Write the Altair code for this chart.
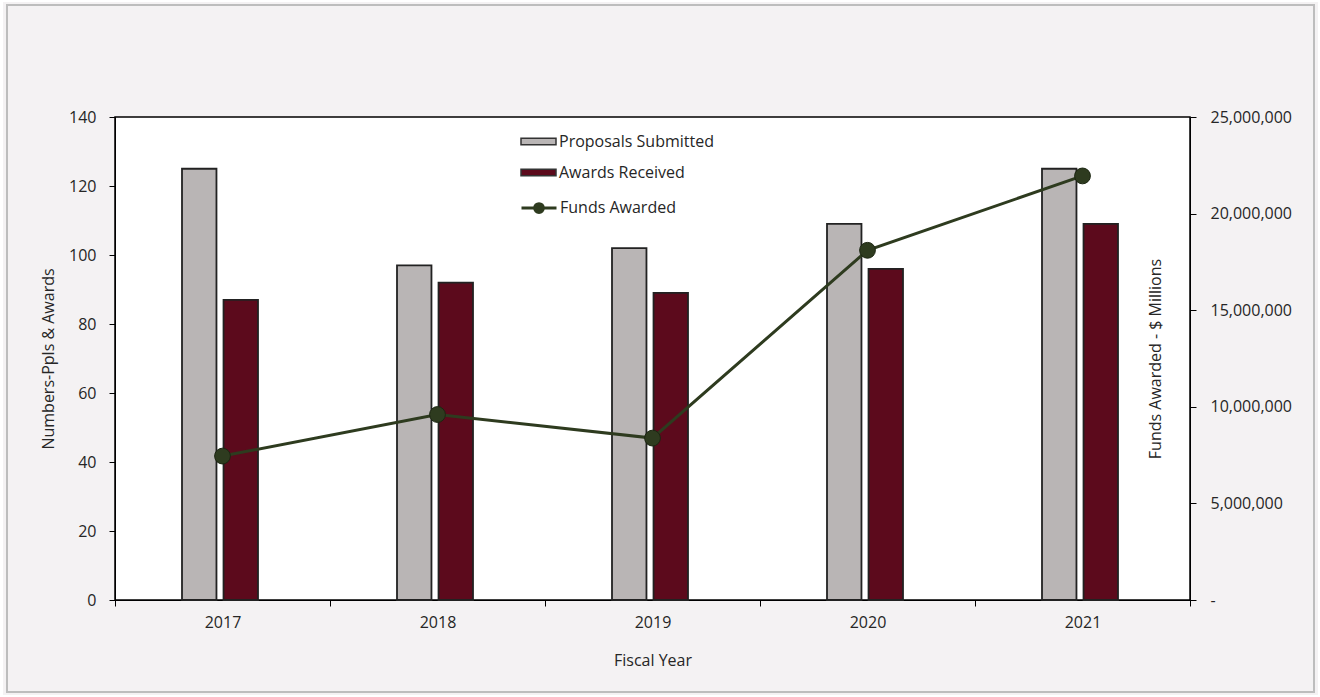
import altair as alt
import pandas as pd

# ---- data ----
years = ["2017", "2018", "2019", "2020", "2021"]
proposals = [125, 97, 102, 109, 125]
awards = [87, 92, 89, 96, 109]
funds = [7450000, 9600000, 8380000, 18100000, 21950000]

bar_series = ["Proposals Submitted", "Awards Received"]
bar_colors = ["#b9b5b5", "#5c0a1c"]
line_series = ["Funds Awarded"]
line_colors = ["#2e3b1f"]

left_ticks = [0, 20, 40, 60, 80, 100, 120, 140]
right_ticks = [0, 5000000, 10000000, 15000000, 20000000, 25000000]

FONT = "Open Sans"
W, H = 1075, 483

bars_df = pd.DataFrame({
    "year": years * 2,
    "series": [bar_series[0]] * len(years) + [bar_series[1]] * len(years),
    "value": proposals + awards,
})
line_df = pd.DataFrame({"year": years, "funds": funds, "series": line_series[0]})
frame_df = pd.DataFrame({"k": [0]})

x_enc = alt.X("year:N", sort=years,
              scale=alt.Scale(paddingInner=0, paddingOuter=0),
              axis=alt.Axis(title="Fiscal Year", labelAngle=0, tickBand="extent",
                            tickSize=6, labelPadding=8, titlePadding=22,
                            domainColor="#000", tickColor="#000"))

bars = alt.Chart(bars_df).mark_bar(stroke="#222222", strokeWidth=1.8).encode(
    x=x_enc,
    xOffset=alt.XOffset("series:N", sort=bar_series,
                        scale=alt.Scale(range=[67, 143], paddingInner=0.17, paddingOuter=0)),
    y=alt.Y("value:Q", scale=alt.Scale(domain=[0, 140], nice=False),
            axis=alt.Axis(title="Numbers-Ppls & Awards", values=left_ticks,
                          tickSize=6, labelPadding=13, titlePadding=12,
                          grid=False, domainColor="#000", tickColor="#000")),
    color=alt.Color("series:N", sort=bar_series,
                    scale=alt.Scale(domain=bar_series, range=bar_colors),
                    legend=alt.Legend(title=None, orient="none", legendX=405, legendY=6,
                                      symbolType="M-1,-0.18H1V0.18H-1Z", symbolSize=1225,
                                      symbolStrokeColor="#333", symbolStrokeWidth=1.5,
                                      rowPadding=4, labelOffset=2)),
)

line_y = alt.Y("funds:Q", scale=alt.Scale(domain=[0, 25000000], nice=False),
               axis=alt.Axis(title="Funds Awarded - $ Millions", orient="right",
                             values=right_ticks, tickSize=6, labelPadding=14,
                             labelAlign="left", grid=False,
                             labelExpr="datum.value == 0 ? '-' : format(datum.value, ',')",
                             titleAngle=270, titleX=-35, titleY=H / 2,
                             titleAlign="center", titleBaseline="middle",
                             domainColor="#000", tickColor="#000"))

line_color = alt.Color("series:N",
                       scale=alt.Scale(domain=line_series, range=line_colors),
                       legend=alt.Legend(title=None, orient="none", legendX=405, legendY=72,
                                         symbolType="M-1,0H1M0.25,0A0.25,0.25,0,1,1,-0.25,0A0.25,0.25,0,1,1,0.25,0",
                                         symbolSize=1225, symbolStrokeWidth=3,
                                         symbolFillColor=line_colors[0], labelOffset=2))

line = alt.Chart(line_df).mark_line(strokeWidth=3).encode(
    x=alt.X("year:N", sort=years), y=line_y, color=line_color)
points = alt.Chart(line_df).mark_point(filled=True, size=250, opacity=1,
                                       stroke="#1c2612", strokeWidth=1).encode(
    x=alt.X("year:N", sort=years), y=line_y, color=line_color)

frame = alt.Chart(frame_df).mark_rect(filled=False, stroke="#ffffff", strokeWidth=10).encode(
    x=alt.value(-117), x2=alt.value(1208), y=alt.value(-120), y2=alt.value(583))
frame2 = alt.Chart(frame_df).mark_rect(filled=False, stroke="#bdbdbd", strokeWidth=2).encode(
    x=alt.value(-108), x2=alt.value(1199), y=alt.value(-112), y2=alt.value(575))

right_layer = alt.layer(line, points)

chart = alt.layer(frame, frame2, bars, right_layer).resolve_scale(
    y="independent", color="independent"
).properties(
    width=W, height=H,
    background="#f4f2f3",
    padding={"left": 115, "top": 117, "right": 130, "bottom": 97},
    autosize=alt.AutoSizeParams(type="none"),
).configure_view(
    fill="#ffffff", stroke="#000000", strokeWidth=1.5
).configure_axis(
    labelFont=FONT, titleFont=FONT, labelFontSize=16, titleFontSize=16,
    labelColor="#262626", titleColor="#262626", titleFontWeight="normal",
).configure_legend(
    labelFont=FONT, labelFontSize=16, labelColor="#262626", labelLimit=300,
)

chart.save("out.html", embed_options={"renderer": "svg", "actions": False})
